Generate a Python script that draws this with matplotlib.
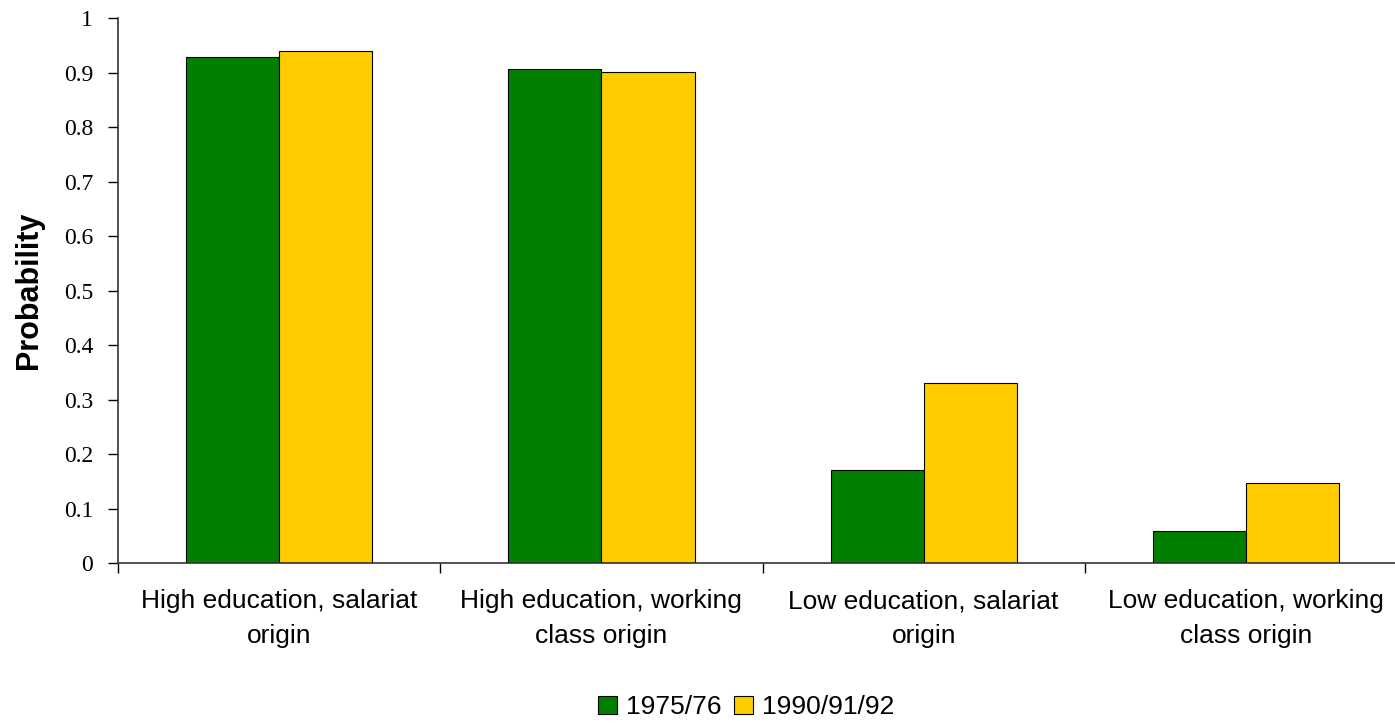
import numpy as np
import matplotlib.pyplot as plt

categories = ["High education, salariat\norigin",
              "High education, working\nclass origin",
              "Low education, salariat\norigin",
              "Low education, working\nclass origin"]
series_names = ["1975/76", "1990/91/92"]
vals_1975 = [0.928, 0.906, 0.171, 0.059]
vals_1990 = [0.939, 0.901, 0.330, 0.147]
colors = ["#007F00", "#FFCC00"]

fig = plt.figure(figsize=(13.95, 7.23), dpi=100)
ax = fig.add_axes([0.0846, 0.2213, 0.9240, 0.7538])

x = np.arange(len(categories)) + 0.5
w = 0.289
ax.bar(x - w / 2, vals_1975, w, color=colors[0], edgecolor="black", linewidth=0.8, label=series_names[0])
ax.bar(x + w / 2, vals_1990, w, color=colors[1], edgecolor="black", linewidth=0.8, label=series_names[1])

ax.set_xlim(0, 4)
ax.set_ylim(0, 1)
ax.set_yticks(np.arange(0, 1.01, 0.1))
ax.set_yticklabels(["0", "0.1", "0.2", "0.3", "0.4", "0.5", "0.6", "0.7", "0.8", "0.9", "1"],
                   family="Liberation Serif", fontsize=17)

# category boundaries carry the ticks, labels sit in the middle
ax.set_xticks([0, 1, 2, 3])
ax.set_xticklabels([])
ax.set_xticks(x, minor=True)
ax.set_xticklabels(categories, minor=True, family="Liberation Sans", fontsize=19, linespacing=1.55)
ax.tick_params(axis="x", which="minor", length=0, pad=19)
ax.tick_params(axis="x", which="major", length=7, direction="out", width=1)
ax.tick_params(axis="y", length=7, direction="out", width=1, pad=11)

for s in ["top", "right"]:
    ax.spines[s].set_visible(False)
for s in ["left", "bottom"]:
    ax.spines[s].set_linewidth(1.2)
    ax.spines[s].set_color("#333333")

ax.set_ylabel("Probability", family="Liberation Sans", fontsize=22, fontweight="bold", labelpad=14)

leg = fig.legend(loc="center", bbox_to_anchor=(0.535, 0.022), ncol=2, frameon=False,
                 prop={"family": "Liberation Sans", "size": 19},
                 handlelength=0.7, handleheight=0.7, handletextpad=0.35, columnspacing=0.5)

fig.savefig("out.png", dpi=100)
